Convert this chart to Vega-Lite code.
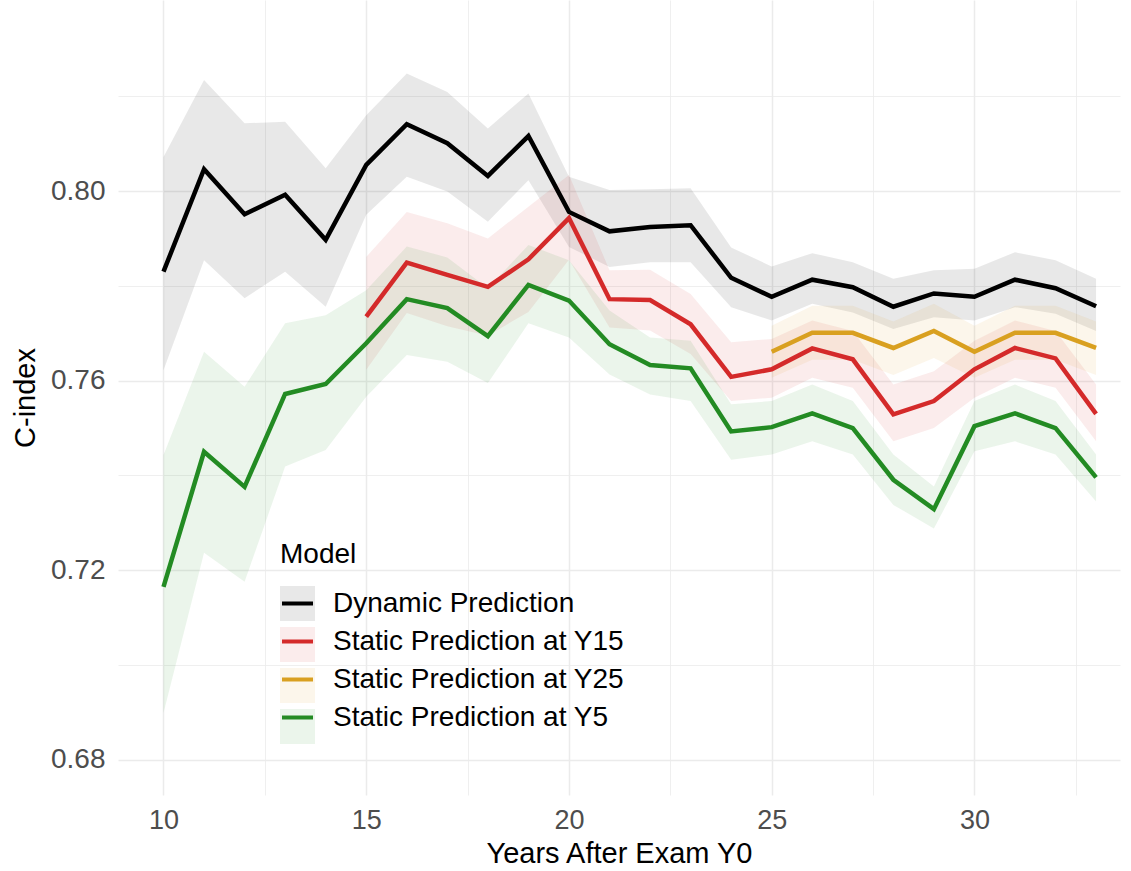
{
  "$schema": "https://vega.github.io/schema/vega-lite/v6.json",
  "width": 1002,
  "height": 795,
  "autosize": {"type": "none"},
  "padding": {"left": 118, "top": 0, "right": 11, "bottom": 76},
  "background": "white",
  "config": {
    "view": {"stroke": null},
    "font": "Liberation Sans"
  },
  "data": {
    "values": [
      {"Year": 10, "Model": "Dynamic Prediction", "C": 0.7830, "lo": 0.7622, "hi": 0.8072},
      {"Year": 11, "Model": "Dynamic Prediction", "C": 0.8046, "lo": 0.7854, "hi": 0.8234},
      {"Year": 12, "Model": "Dynamic Prediction", "C": 0.7951, "lo": 0.7774, "hi": 0.8143},
      {"Year": 13, "Model": "Dynamic Prediction", "C": 0.7992, "lo": 0.7830, "hi": 0.8146},
      {"Year": 14, "Model": "Dynamic Prediction", "C": 0.7897, "lo": 0.7756, "hi": 0.8048},
      {"Year": 15, "Model": "Dynamic Prediction", "C": 0.8055, "lo": 0.7950, "hi": 0.8160},
      {"Year": 16, "Model": "Dynamic Prediction", "C": 0.8141, "lo": 0.8030, "hi": 0.8248},
      {"Year": 17, "Model": "Dynamic Prediction", "C": 0.8101, "lo": 0.7999, "hi": 0.8209},
      {"Year": 18, "Model": "Dynamic Prediction", "C": 0.8032, "lo": 0.7935, "hi": 0.8132},
      {"Year": 19, "Model": "Dynamic Prediction", "C": 0.8116, "lo": 0.8023, "hi": 0.8206},
      {"Year": 20, "Model": "Dynamic Prediction", "C": 0.7956, "lo": 0.7882, "hi": 0.8030},
      {"Year": 21, "Model": "Dynamic Prediction", "C": 0.7915, "lo": 0.7840, "hi": 0.8002},
      {"Year": 22, "Model": "Dynamic Prediction", "C": 0.7924, "lo": 0.7850, "hi": 0.8004},
      {"Year": 23, "Model": "Dynamic Prediction", "C": 0.7928, "lo": 0.7850, "hi": 0.8006},
      {"Year": 24, "Model": "Dynamic Prediction", "C": 0.7817, "lo": 0.7755, "hi": 0.7881},
      {"Year": 25, "Model": "Dynamic Prediction", "C": 0.7777, "lo": 0.7727, "hi": 0.7841},
      {"Year": 26, "Model": "Dynamic Prediction", "C": 0.7813, "lo": 0.7762, "hi": 0.7869},
      {"Year": 27, "Model": "Dynamic Prediction", "C": 0.7797, "lo": 0.7744, "hi": 0.7850},
      {"Year": 28, "Model": "Dynamic Prediction", "C": 0.7756, "lo": 0.7709, "hi": 0.7815},
      {"Year": 29, "Model": "Dynamic Prediction", "C": 0.7784, "lo": 0.7734, "hi": 0.7833},
      {"Year": 30, "Model": "Dynamic Prediction", "C": 0.7777, "lo": 0.7727, "hi": 0.7836},
      {"Year": 31, "Model": "Dynamic Prediction", "C": 0.7813, "lo": 0.7755, "hi": 0.7871},
      {"Year": 32, "Model": "Dynamic Prediction", "C": 0.7795, "lo": 0.7741, "hi": 0.7854},
      {"Year": 33, "Model": "Dynamic Prediction", "C": 0.7757, "lo": 0.7705, "hi": 0.7815},

      {"Year": 15, "Model": "Static Prediction at Y15", "C": 0.7735, "lo": 0.7623, "hi": 0.7861},
      {"Year": 16, "Model": "Static Prediction at Y15", "C": 0.7849, "lo": 0.7743, "hi": 0.7956},
      {"Year": 17, "Model": "Static Prediction at Y15", "C": 0.7823, "lo": 0.7715, "hi": 0.7932},
      {"Year": 18, "Model": "Static Prediction at Y15", "C": 0.7798, "lo": 0.7695, "hi": 0.7900},
      {"Year": 19, "Model": "Static Prediction at Y15", "C": 0.7856, "lo": 0.7745, "hi": 0.7967},
      {"Year": 20, "Model": "Static Prediction at Y15", "C": 0.7943, "lo": 0.7855, "hi": 0.8034},
      {"Year": 21, "Model": "Static Prediction at Y15", "C": 0.7772, "lo": 0.7712, "hi": 0.7833},
      {"Year": 22, "Model": "Static Prediction at Y15", "C": 0.7770, "lo": 0.7706, "hi": 0.7834},
      {"Year": 23, "Model": "Static Prediction at Y15", "C": 0.7719, "lo": 0.7656, "hi": 0.7783},
      {"Year": 24, "Model": "Static Prediction at Y15", "C": 0.7608, "lo": 0.7557, "hi": 0.7681},
      {"Year": 25, "Model": "Static Prediction at Y15", "C": 0.7624, "lo": 0.7564, "hi": 0.7688},
      {"Year": 26, "Model": "Static Prediction at Y15", "C": 0.7668, "lo": 0.7606, "hi": 0.7727},
      {"Year": 27, "Model": "Static Prediction at Y15", "C": 0.7645, "lo": 0.7585, "hi": 0.7705},
      {"Year": 28, "Model": "Static Prediction at Y15", "C": 0.7529, "lo": 0.7472, "hi": 0.7592},
      {"Year": 29, "Model": "Static Prediction at Y15", "C": 0.7557, "lo": 0.7500, "hi": 0.7620},
      {"Year": 30, "Model": "Static Prediction at Y15", "C": 0.7624, "lo": 0.7564, "hi": 0.7684},
      {"Year": 31, "Model": "Static Prediction at Y15", "C": 0.7669, "lo": 0.7606, "hi": 0.7727},
      {"Year": 32, "Model": "Static Prediction at Y15", "C": 0.7647, "lo": 0.7585, "hi": 0.7705},
      {"Year": 33, "Model": "Static Prediction at Y15", "C": 0.7530, "lo": 0.7472, "hi": 0.7592},

      {"Year": 25, "Model": "Static Prediction at Y25", "C": 0.7661, "lo": 0.7606, "hi": 0.7716},
      {"Year": 26, "Model": "Static Prediction at Y25", "C": 0.7701, "lo": 0.7644, "hi": 0.7758},
      {"Year": 27, "Model": "Static Prediction at Y25", "C": 0.7701, "lo": 0.7644, "hi": 0.7758},
      {"Year": 28, "Model": "Static Prediction at Y25", "C": 0.7669, "lo": 0.7612, "hi": 0.7725},
      {"Year": 29, "Model": "Static Prediction at Y25", "C": 0.7705, "lo": 0.7648, "hi": 0.7762},
      {"Year": 30, "Model": "Static Prediction at Y25", "C": 0.7661, "lo": 0.7606, "hi": 0.7716},
      {"Year": 31, "Model": "Static Prediction at Y25", "C": 0.7701, "lo": 0.7644, "hi": 0.7758},
      {"Year": 32, "Model": "Static Prediction at Y25", "C": 0.7701, "lo": 0.7644, "hi": 0.7758},
      {"Year": 33, "Model": "Static Prediction at Y25", "C": 0.7669, "lo": 0.7612, "hi": 0.7725},

      {"Year": 10, "Model": "Static Prediction at Y5", "C": 0.7165, "lo": 0.6899, "hi": 0.7443},
      {"Year": 11, "Model": "Static Prediction at Y5", "C": 0.7450, "lo": 0.7237, "hi": 0.7661},
      {"Year": 12, "Model": "Static Prediction at Y5", "C": 0.7376, "lo": 0.7176, "hi": 0.7587},
      {"Year": 13, "Model": "Static Prediction at Y5", "C": 0.7572, "lo": 0.7419, "hi": 0.7721},
      {"Year": 14, "Model": "Static Prediction at Y5", "C": 0.7593, "lo": 0.7454, "hi": 0.7738},
      {"Year": 15, "Model": "Static Prediction at Y5", "C": 0.7679, "lo": 0.7566, "hi": 0.7791},
      {"Year": 16, "Model": "Static Prediction at Y5", "C": 0.7772, "lo": 0.7654, "hi": 0.7883},
      {"Year": 17, "Model": "Static Prediction at Y5", "C": 0.7753, "lo": 0.7640, "hi": 0.7860},
      {"Year": 18, "Model": "Static Prediction at Y5", "C": 0.7694, "lo": 0.7595, "hi": 0.7795},
      {"Year": 19, "Model": "Static Prediction at Y5", "C": 0.7802, "lo": 0.7721, "hi": 0.7886},
      {"Year": 20, "Model": "Static Prediction at Y5", "C": 0.7769, "lo": 0.7691, "hi": 0.7854},
      {"Year": 21, "Model": "Static Prediction at Y5", "C": 0.7677, "lo": 0.7613, "hi": 0.7748},
      {"Year": 22, "Model": "Static Prediction at Y5", "C": 0.7633, "lo": 0.7571, "hi": 0.7691},
      {"Year": 23, "Model": "Static Prediction at Y5", "C": 0.7626, "lo": 0.7557, "hi": 0.7684},
      {"Year": 24, "Model": "Static Prediction at Y5", "C": 0.7493, "lo": 0.7433, "hi": 0.7550},
      {"Year": 25, "Model": "Static Prediction at Y5", "C": 0.7502, "lo": 0.7444, "hi": 0.7557},
      {"Year": 26, "Model": "Static Prediction at Y5", "C": 0.7531, "lo": 0.7472, "hi": 0.7592},
      {"Year": 27, "Model": "Static Prediction at Y5", "C": 0.7500, "lo": 0.7444, "hi": 0.7557},
      {"Year": 28, "Model": "Static Prediction at Y5", "C": 0.7391, "lo": 0.7338, "hi": 0.7444},
      {"Year": 29, "Model": "Static Prediction at Y5", "C": 0.7329, "lo": 0.7288, "hi": 0.7377},
      {"Year": 30, "Model": "Static Prediction at Y5", "C": 0.7504, "lo": 0.7451, "hi": 0.7557},
      {"Year": 31, "Model": "Static Prediction at Y5", "C": 0.7531, "lo": 0.7472, "hi": 0.7592},
      {"Year": 32, "Model": "Static Prediction at Y5", "C": 0.7500, "lo": 0.7444, "hi": 0.7557},
      {"Year": 33, "Model": "Static Prediction at Y5", "C": 0.7396, "lo": 0.7345, "hi": 0.7444}
    ]
  },
  "encoding": {
    "x": {
      "field": "Year",
      "type": "quantitative",
      "scale": {"domain": [8.878, 33.59], "nice": false, "zero": false},
      "axis": {
        "values": [10, 12.5, 15, 17.5, 20, 22.5, 25, 27.5, 30, 32.5],
        "labelExpr": "datum.value % 5 == 0 ? datum.label : ''",
        "labelOverlap": false,
        "ticks": false,
        "domain": false,
        "grid": true,
        "gridColor": "#EBEBEB",
        "gridWidth": {"condition": {"test": "datum.value % 5 != 0", "value": 0.8}, "value": 1.5},
        "labelFontSize": 27,
        "labelColor": "#4D4D4D",
        "labelPadding": 12,
        "title": "Years After Exam Y0",
        "titleFontSize": 29,
        "titleFontWeight": "normal",
        "titleColor": "#000000",
        "titlePadding": 6
      }
    }
  },
  "layer": [
    {
      "mark": {"type": "area", "fillOpacity": 0.09, "clip": true},
      "encoding": {
        "y": {
          "field": "lo",
          "type": "quantitative",
          "scale": {"domain": [0.6726, 0.8403], "nice": false, "zero": false},
          "axis": {
            "values": [0.68, 0.70, 0.72, 0.74, 0.76, 0.78, 0.80, 0.82],
            "labelExpr": "round(datum.value*100) % 4 == 0 ? format(datum.value, '.2f') : ''",
            "labelOverlap": false,
            "ticks": false,
            "domain": false,
            "grid": true,
            "gridColor": "#EBEBEB",
            "gridWidth": {"condition": {"test": "round(datum.value*100) % 4 != 0", "value": 0.8}, "value": 1.5},
            "labelFontSize": 28,
            "labelColor": "#4D4D4D",
            "labelPadding": 13,
            "title": "C-index",
            "titleFontSize": 29,
            "titleFontWeight": "normal",
            "titleColor": "#000000",
            "titlePadding": 10
          }
        },
        "y2": {"field": "hi"},
        "fill": {
          "field": "Model",
          "type": "nominal",
          "scale": {
            "range": ["#000000", "#D42A2A", "#D9A020", "#238B23"]
          },
          "legend": {
            "orient": "none",
            "legendX": 162,
            "legendY": 541,
            "title": " ",
            "titleFontSize": 28,
            "titleFontWeight": "normal",
            "titleColor": "transparent",
            "titlePadding": 17,
            "labelFontSize": 28,
            "labelColor": "transparent",
            "labelExpr": "''",
            "labelOffset": 18,
            "symbolType": "square",
            "symbolSize": 1225,
            "symbolStrokeWidth": 0,
            "symbolOpacity": 0.09,
            "rowPadding": 6
          }
        }
      }
    },
    {
      "mark": {"type": "line", "strokeWidth": 4.5, "clip": true},
      "encoding": {
        "y": {"field": "C", "type": "quantitative"},
        "stroke": {
          "field": "Model",
          "type": "nominal",
          "scale": {
            "domain": ["Dynamic Prediction", "Static Prediction at Y15", "Static Prediction at Y25", "Static Prediction at Y5"],
            "range": ["#000000", "#D42A2A", "#D9A020", "#238B23"]
          },
          "legend": {
            "orient": "none",
            "legendX": 162,
            "legendY": 541,
            "title": "Model",
            "titleFontSize": 28,
            "titleFontWeight": "normal",
            "titleColor": "#000000",
            "titlePadding": 17,
            "labelFontSize": 28,
            "labelColor": "#000000",
            "labelLimit": 0,
            "labelOffset": 18,
            "symbolType": "stroke",
            "symbolSize": 961,
            "symbolStrokeWidth": 4,
            "rowPadding": 6
          }
        }
      }
    }
  ]
}
